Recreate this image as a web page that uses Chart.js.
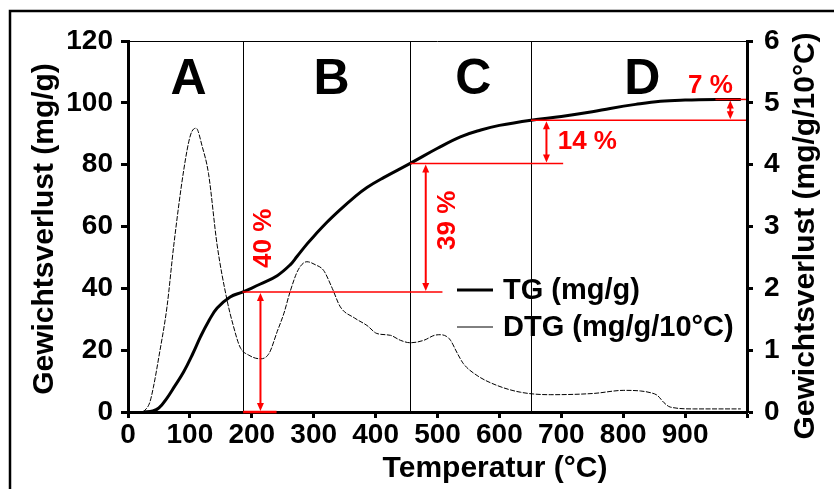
<!DOCTYPE html>
<html>
<head>
<meta charset="utf-8">
<script src="https://cdn.jsdelivr.net/npm/chart.js@4/dist/chart.umd.min.js"></script>
<style>
  html, body { margin: 0; padding: 0; background: #fff; }
  #wrap { width: 834px; height: 489px; }
</style>
</head>
<body>
<div id="wrap"><canvas id="c" width="834" height="489"></canvas></div>
<script>
// ---- Data ----
const tgTemps = [25, 40, 50, 63, 75, 90, 105, 117, 130, 144, 165, 185, 200, 214, 241, 262, 273, 289, 300, 321, 343, 364, 386, 413, 456, 500, 537, 570, 600, 651, 700, 750, 779, 820, 860, 900, 950, 990];
const tgValues = [0, 0.3, 1.3, 4.5, 8.2, 13, 19, 24.3, 29.3, 33.6, 37.2, 38.8, 40.1, 41.4, 44.1, 47.6, 50.3, 54.3, 56.8, 61.3, 65.5, 69.2, 72.6, 75.8, 80.4, 85.3, 89, 91.2, 92.7, 94.4, 95.6, 97.1, 98.2, 99.5, 100.5, 100.9, 101.1, 101.1];

const dtgTemps = [25, 35, 41, 50, 63, 74, 90, 101, 110, 120, 130, 144, 160, 170, 181, 195, 214, 228, 241, 252, 262, 275, 289, 303, 316, 330, 343, 366, 386, 402, 424, 440, 456, 478, 495, 505, 515, 521, 532, 542, 564, 596, 634, 682, 752, 801, 828, 845, 855, 866, 876, 914, 990];
const dtgValues = [0, 0.15, 0.4, 0.9, 1.7, 2.7, 3.91, 4.48, 4.59, 4.29, 3.86, 2.7, 1.81, 1.4, 1.05, 0.92, 0.86, 0.95, 1.3, 1.6, 1.95, 2.3, 2.43, 2.38, 2.29, 2.0, 1.7, 1.52, 1.4, 1.27, 1.24, 1.16, 1.12, 1.16, 1.24, 1.25, 1.22, 1.16, 0.95, 0.78, 0.59, 0.43, 0.32, 0.28, 0.30, 0.35, 0.34, 0.31, 0.27, 0.15, 0.08, 0.05, 0.05];

const xTicks = [0, 100, 200, 300, 400, 500, 600, 700, 800, 900];
const regionBounds = [185, 456, 651];
const regionLabels = ['A', 'B', 'C', 'D'];
const regionLabelTemps = [98, 329, 558, 831];

const lossLevels = [0, 38.8, 80.4, 94.4, 101.1];
const lossLabels = ['40 %', '39 %', '14 %', '7 %'];
const lossArrowTemps = [214, 481, 676, 973];
// horizontal guide lines: level, from T, to T
const guideLevels = [0, 38.8, 80.4, 94.4, 101.1];
const guideFrom = [186, 185, 456, 651, 949];
const guideTo = [240, 508, 703, 1000, 1000];
// label anchors in data units (T, mg/g) and rotation flags
const lossLabelT = [219, 517, 742, 941];
const lossLabelV = [56.2, 62, 87.3, 105.4];
const lossLabelRot = [true, true, false, false];

const seriesNames = ['TG (mg/g)', 'DTG (mg/g/10°C)'];

const FONT = '"Liberation Sans", Arial, sans-serif';

const overlay = {
  id: 'overlay',
  beforeDatasetsDraw(chart) {
    const { ctx, chartArea: a, scales: { x, y } } = chart;
    ctx.save();
    ctx.strokeStyle = '#000';
    ctx.lineWidth = 1;
    ctx.beginPath();
    ctx.moveTo(a.left, a.top + 0.5);
    ctx.lineTo(a.right, a.top + 0.5);
    ctx.stroke();
    regionBounds.forEach(t => {
      const px = Math.round(x.getPixelForValue(t)) + 0.5;
      ctx.beginPath();
      ctx.moveTo(px, a.top);
      ctx.lineTo(px, a.bottom);
      ctx.stroke();
    });
    ctx.fillStyle = '#000';
    ctx.font = 'bold 50px ' + FONT;
    ctx.textAlign = 'center';
    ctx.textBaseline = 'middle';
    regionLabels.forEach((l, i) => {
      ctx.fillText(l, x.getPixelForValue(regionLabelTemps[i]), y.getPixelForValue(108) + 2);
    });
    ctx.restore();
  },
  afterDatasetsDraw(chart) {
    const { ctx, chartArea: a, scales: { x, y } } = chart;
    ctx.save();
    ctx.strokeStyle = '#ff0000';
    ctx.fillStyle = '#ff0000';
    guideLevels.forEach((lv, i) => {
      const py = y.getPixelForValue(lv);
      ctx.lineWidth = lv === 0 ? 2.5 : 1.5;
      ctx.beginPath();
      ctx.moveTo(x.getPixelForValue(guideFrom[i]), py);
      ctx.lineTo(Math.min(x.getPixelForValue(guideTo[i]), a.right - 1), py);
      ctx.stroke();
    });
    const head = (px, py, dir) => {
      ctx.beginPath();
      ctx.moveTo(px, py);
      ctx.lineTo(px - 3.5, py + dir * 8);
      ctx.lineTo(px + 3.5, py + dir * 8);
      ctx.closePath();
      ctx.fill();
    };
    lossArrowTemps.forEach((t, i) => {
      const px = x.getPixelForValue(t);
      const y0 = y.getPixelForValue(lossLevels[i]) - 1;
      const y1 = y.getPixelForValue(lossLevels[i + 1]) + 1;
      ctx.lineWidth = 2;
      ctx.beginPath();
      ctx.moveTo(px, y0 - 4);
      ctx.lineTo(px, y1 + 4);
      ctx.stroke();
      head(px, y1, 1);
      head(px, y0, -1);
    });
    ctx.font = 'bold 26px ' + FONT;
    ctx.textAlign = 'center';
    ctx.textBaseline = 'middle';
    lossLabels.forEach((l, i) => {
      const px = x.getPixelForValue(lossLabelT[i]);
      const py = y.getPixelForValue(lossLabelV[i]);
      ctx.save();
      ctx.translate(px, py);
      if (lossLabelRot[i]) ctx.rotate(-Math.PI / 2);
      ctx.fillText(l, 0, 0);
      ctx.restore();
    });
    ctx.restore();
  },
  afterDraw(chart) {
    const { ctx } = chart;
    ctx.save();
    ctx.strokeStyle = '#000';
    ctx.lineWidth = 2.5;
    ctx.beginPath();
    ctx.moveTo(834, 11);
    ctx.lineTo(10, 11);
    ctx.lineTo(10, 489);
    ctx.stroke();
    const ds = chart.data.datasets;
    const ly = [290, 327];
    ds.forEach((d, i) => {
      ctx.strokeStyle = '#000';
      ctx.lineWidth = d.borderWidth;
      ctx.beginPath();
      ctx.moveTo(457, ly[i]);
      ctx.lineTo(493, ly[i]);
      ctx.stroke();
    });
    ctx.fillStyle = '#000';
    ctx.font = 'bold 29px ' + FONT;
    ctx.textAlign = 'left';
    ctx.textBaseline = 'middle';
    ds.forEach((d, i) => ctx.fillText(d.label, 503, ly[i] + 1));
    ctx.font = 'bold 30px ' + FONT;
    ctx.textAlign = 'center';
    ctx.textBaseline = 'middle';
    ctx.fillText('Temperatur (°C)', 495, 469);
    ctx.save();
    ctx.translate(45, 229);
    ctx.rotate(-Math.PI / 2);
    ctx.fillText('Gewichtsverlust (mg/g)', 0, 0);
    ctx.restore();
    ctx.save();
    ctx.translate(806, 236);
    ctx.rotate(-Math.PI / 2);
    ctx.fillText('Gewichtsverlust (mg/g/10°C)', 0, 0);
    ctx.restore();
    ctx.restore();
  }
};

const tickFont = { family: FONT, size: 28, weight: 'bold' };
const axisCommon = {
  grid: { drawOnChartArea: false, drawTicks: true, tickWidth: 3, tickColor: '#000' },
  border: { display: true, color: '#000', width: 3 },
};

new Chart(document.getElementById('c'), {
  type: 'line',
  data: {
    datasets: [
      {
        label: seriesNames[0],
        data: tgTemps.map((t, i) => ({ x: t, y: tgValues[i] })),
        yAxisID: 'y',
        borderColor: '#000',
        borderWidth: 3,
        pointRadius: 0,
        tension: 0.4,
        fill: false,
      },
      {
        label: seriesNames[1],
        data: dtgTemps.map((t, i) => ({ x: t, y: dtgValues[i] })),
        yAxisID: 'y1',
        borderColor: '#000',
        borderWidth: 1,
        borderDash: [5, 1.5],
        pointRadius: 0,
        cubicInterpolationMode: 'monotone',
        fill: false,
      }
    ]
  },
  options: {
    responsive: false,
    devicePixelRatio: 1,
    animation: false,
    layout: { padding: { top: 41, left: 0, right: 0, bottom: 0 } },
    plugins: { legend: { display: false }, tooltip: { enabled: false }, title: { display: false } },
    scales: {
      x: {
        type: 'linear', min: 0, max: 1000,
        afterBuildTicks: s => { s.ticks = xTicks.concat([1000]).map(v => ({ value: v })); },
        ticks: { font: tickFont, color: '#000', padding: 0, maxRotation: 0, autoSkip: false,
                 callback: v => (xTicks.includes(v) ? String(v) : '') },
        grid: { ...axisCommon.grid, tickLength: 6 },
        border: axisCommon.border,
        afterFit: s => { s.height = 77; },
      },
      y: {
        position: 'left', min: 0, max: 120,
        ticks: { stepSize: 20, font: tickFont, color: '#000', padding: 8 },
        grid: { ...axisCommon.grid, tickLength: 7 },
        border: axisCommon.border,
        afterFit: s => { s.width = 128; },
      },
      y1: {
        position: 'right', min: 0, max: 6,
        ticks: { stepSize: 1, font: tickFont, color: '#000', padding: 11 },
        grid: { ...axisCommon.grid, tickLength: 6 },
        border: axisCommon.border,
        afterFit: s => { s.width = 87; },
      }
    }
  },
  plugins: [overlay]
});
</script>
</body>
</html>
